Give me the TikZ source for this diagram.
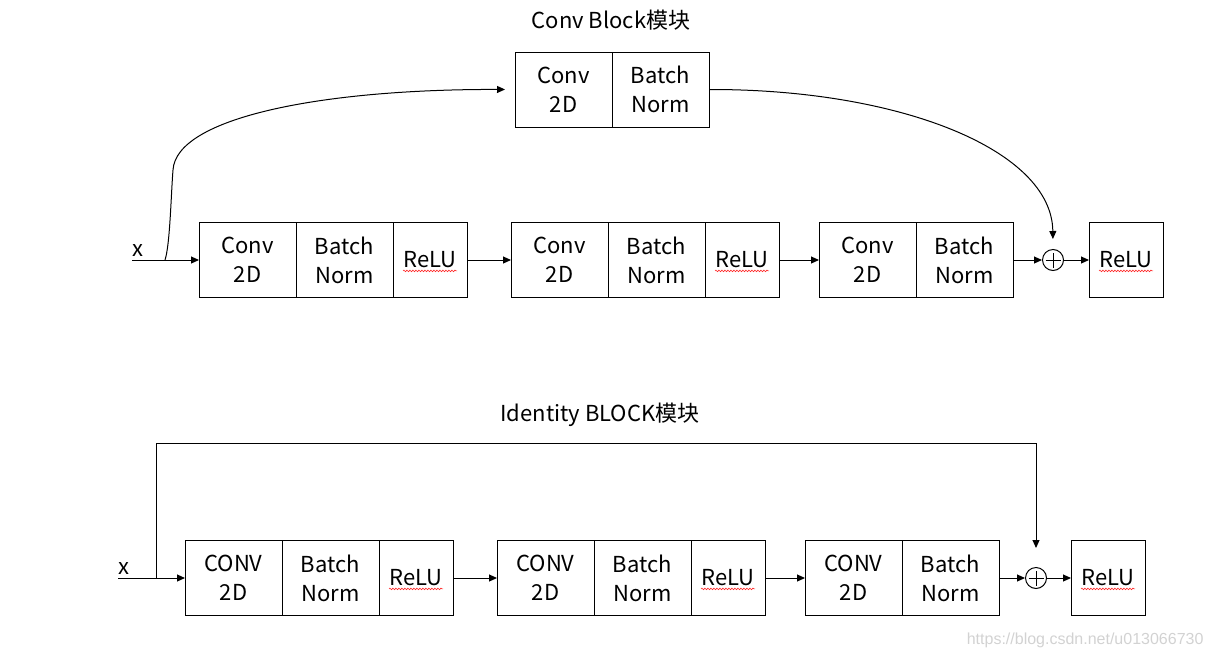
\documentclass[tikz,border=0pt]{standalone}
\usepackage{fontspec}
\setmainfont{Noto Sans CJK SC}
\newfontfamily\markfont{Liberation Sans}
\usepackage{tikz}
\usetikzlibrary{arrows.meta, positioning, calc, decorations.pathmorphing}

\begin{document}
\begin{tikzpicture}[
  x=1pt, y=-1pt,
  every node/.style={font=\fontsize{22}{29}\selectfont},
  cell/.style={rectangle, draw, line width=1pt,
               minimum width=97pt, minimum height=75pt,
               align=center, inner sep=2pt, outer sep=0pt},
  relu/.style={cell, minimum width=74pt},
  sum/.style={circle, draw, line width=1pt, minimum size=21pt, inner sep=0pt,
              path picture={
                \draw[line width=1pt]
                  ([xshift=-7.5pt]path picture bounding box.center) --
                  ([xshift=7.5pt]path picture bounding box.center)
                  ([yshift=-7.5pt]path picture bounding box.center) --
                  ([yshift=7.5pt]path picture bounding box.center);}},
  xlab/.style={inner xsep=0pt, inner ysep=3pt, anchor=south west},
  arr/.style={-{Triangle[length=8pt, width=7pt]}, line width=1pt},
  spell/.style={red!85, line width=0.6pt, decorate,
                decoration={snake, amplitude=0.8pt, segment length=3pt}},
]
\useasboundingbox (0,0) rectangle (1215,659);

%% Conv block (top)
\node (title_a) at (611,20) {Conv Block模块};

\node[cell, anchor=west] (conv_s) at (515,89.5) {Conv\\2D};
\node[cell, right=0pt of conv_s] (bn_s) {Batch\\Norm};

\node[xlab] (x_a) at (132,260) {x};
\node[cell, anchor=west] (conv_a1) at (199,260) {Conv\\2D};
\node[cell, right=0pt of conv_a1] (bn_a1) {Batch\\Norm};
\node[relu, right=0pt of bn_a1]   (relu_a1) {ReLU};
\node[cell, right=44pt of relu_a1] (conv_a2) {Conv\\2D};
\node[cell, right=0pt of conv_a2] (bn_a2) {Batch\\Norm};
\node[relu, right=0pt of bn_a2]   (relu_a2) {ReLU};
\node[cell, right=40pt of relu_a2] (conv_a3) {Conv\\2D};
\node[cell, right=0pt of conv_a3] (bn_a3) {Batch\\Norm};
\node[sum, right=29pt of bn_a3]   (sum_a) {};
\node[relu, right=25pt of sum_a]  (out_a) {ReLU};
\coordinate (br_a) at (165,260);

\draw[arr] (x_a.south west) -- (conv_a1.west);
\draw[arr] (relu_a1) -- (conv_a2);
\draw[arr] (relu_a2) -- (conv_a3);
\draw[arr] (bn_a3)   -- (sum_a);
\draw[arr] (sum_a)   -- (out_a);
\draw[arr, shorten >=10pt] (br_a) .. controls (170,245) and (171,195) .. (173,170)
  .. controls (176,118) and (320,89) .. (conv_s.west);
\draw[arr, shorten >=10pt] (bn_s.east) .. controls (900,89) and (1052,150) .. (sum_a.north);

%% Identity block (bottom)
\node (title_b) at (600,415) {Identity BLOCK模块};

\node[xlab] (x_b) at (118,578) {x};
\node[cell, anchor=west] (conv_b1) at (185,578) {CONV\\2D};
\node[cell, right=0pt of conv_b1] (bn_b1) {Batch\\Norm};
\node[relu, right=0pt of bn_b1]   (relu_b1) {ReLU};
\node[cell, right=44pt of relu_b1] (conv_b2) {CONV\\2D};
\node[cell, right=0pt of conv_b2] (bn_b2) {Batch\\Norm};
\node[relu, right=0pt of bn_b2]   (relu_b2) {ReLU};
\node[cell, right=40pt of relu_b2] (conv_b3) {CONV\\2D};
\node[cell, right=0pt of conv_b3] (bn_b3) {Batch\\Norm};
\node[sum, right=26pt of bn_b3]   (sum_b) {};
\node[relu, right=24pt of sum_b]  (out_b) {ReLU};
\coordinate (br_b)  at (156,578);
\coordinate (top_b) at (156,443);

\draw[arr] (x_b.south west) -- (conv_b1.west);
\draw[arr] (relu_b1) -- (conv_b2);
\draw[arr] (relu_b2) -- (conv_b3);
\draw[arr] (bn_b3)   -- (sum_b);
\draw[arr] (sum_b)   -- (out_b);
\draw[arr, shorten >=19pt] (br_b) -- (top_b) -| (sum_b.north);

%% spell-check marks under ReLU
\draw[spell] ($(relu_a1.base)+(-27,3)$) -- ++(54,0);
\draw[spell] ($(relu_a2.base)+(-27,3)$) -- ++(54,0);
\draw[spell] ($(out_a.base)+(-27,3)$)   -- ++(54,0);
\draw[spell] ($(relu_b1.base)+(-27,3)$) -- ++(54,0);
\draw[spell] ($(relu_b2.base)+(-27,3)$) -- ++(54,0);
\draw[spell] ($(out_b.base)+(-27,3)$)   -- ++(54,0);

\node[anchor=east, text=gray!35, font=\markfont\fontsize{16}{18}\selectfont]
  (mark) at (1207,640) {https://blog.csdn.net/u013066730};

\end{tikzpicture}
\end{document}
